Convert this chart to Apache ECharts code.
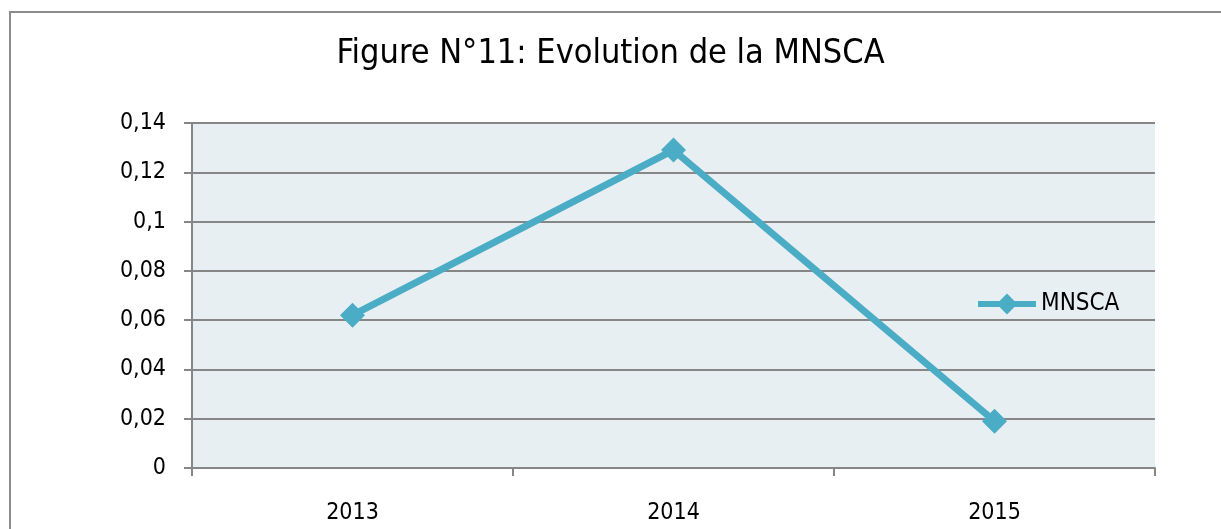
<!DOCTYPE html>
<html lang="fr">
<head>
  <meta charset="UTF-8" />
  <title>Evolution de la MNSCA</title>
  <script src="https://cdn.jsdelivr.net/npm/echarts@6/dist/echarts.min.js"></script>
  <style>
    html, body { margin: 0; padding: 0; background: #fff; }
    #frame {
      position: absolute; left: 9px; top: 11px; width: 1240px; height: 560px;
      border: 2px solid #8c8c8c; box-sizing: border-box;
    }
    #main { position: absolute; left: 0; top: 0; width: 1221px; height: 529px; }
  </style>
</head>
<body>
  <div id="frame"></div>
  <div id="main"></div>
<script>
  // données
  var years = ["2013", "2014", "2015"];
  var mnsca = [0.062, 0.129, 0.019];
  var yTicks = [0, 0.02, 0.04, 0.06, 0.08, 0.1, 0.12, 0.14];

  var font = "'DejaVu Sans Condensed', 'Open Sans', sans-serif";
  var chart = echarts.init(document.getElementById("main"));

  var option = {
    animation: false,
    title: {
      text: "Figure N°11: Evolution de la MNSCA",
      left: "center",
      top: 32,
      textStyle: { fontFamily: font, fontWeight: "normal", fontSize: 34, color: "#000" }
    },
    legend: {
      data: ["MNSCA"],
      left: 975,
      top: 292,
      padding: 0,
      itemWidth: 58,
      itemHeight: 26,
      itemGap: 4,
      lineStyle: { width: 6 },
      textStyle: { fontFamily: font, fontSize: 24, color: "#000" }
    },
    grid: {
      left: 192, right: 66, top: 123, bottom: 61,
      show: true, backgroundColor: "#e8eff3", borderWidth: 0
    },
    xAxis: {
      type: "category",
      data: years,
      boundaryGap: true,
      axisLine: { lineStyle: { color: "#868686", width: 2 } },
      axisTick: { show: true, length: 8, lineStyle: { color: "#868686", width: 2 } },
      axisLabel: { fontFamily: font, fontSize: 23, color: "#000", margin: 34 }
    },
    yAxis: {
      type: "value",
      min: yTicks[0],
      max: yTicks[yTicks.length - 1],
      interval: 0.02,
      axisLine: { show: true, lineStyle: { color: "#868686", width: 2 } },
      axisTick: { show: true, length: 8, lineStyle: { color: "#868686", width: 2 } },
      splitLine: { lineStyle: { color: "#868686", width: 2 } },
      axisLabel: {
        fontFamily: font, fontSize: 23, color: "#000", margin: 26,
        formatter: function (v) { return String(Math.round(v * 100) / 100).replace(".", ","); }
      }
    },
    series: [
      {
        name: "MNSCA",
        type: "line",
        data: mnsca,
        symbol: "diamond",
        symbolSize: 25,
        lineStyle: { color: "#4bacc6", width: 7 },
        itemStyle: { color: "#4bacc6" }
      }
    ]
  };

  chart.setOption(option);
</script>
</body>
</html>
